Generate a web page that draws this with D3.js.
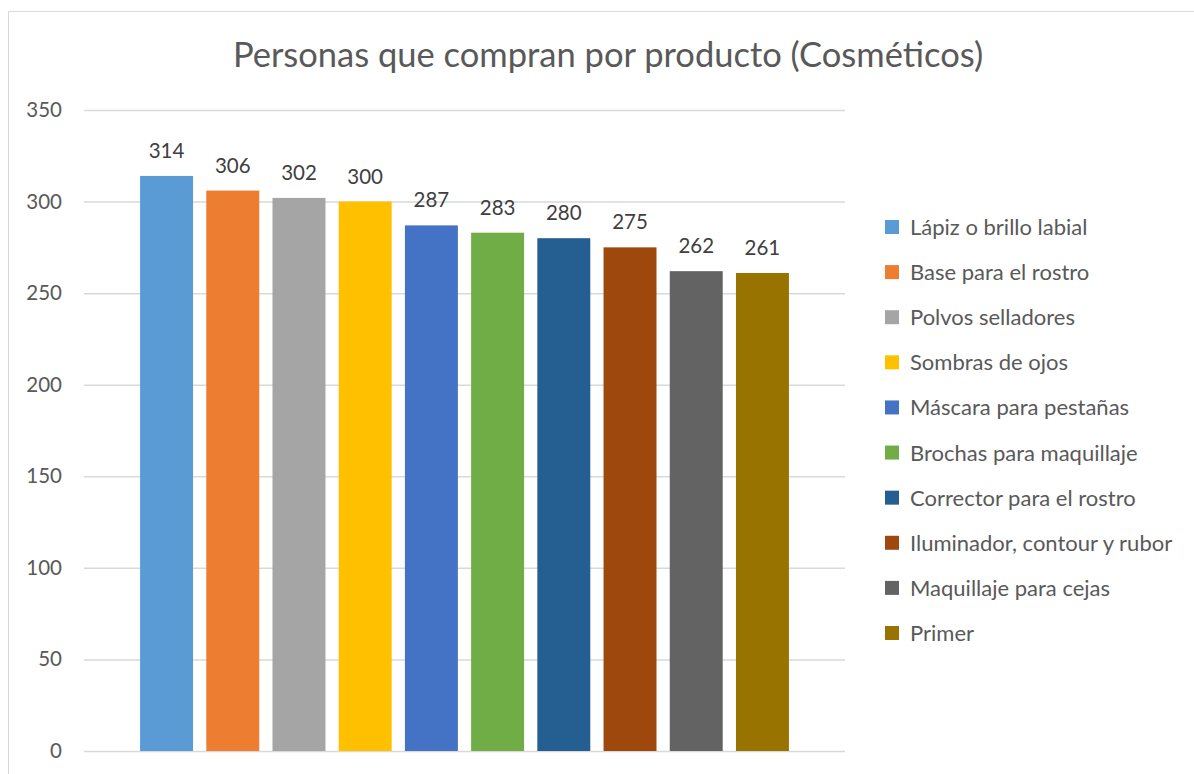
<!DOCTYPE html>
<html>
<head>
<meta charset="utf-8">
<script src="https://cdn.jsdelivr.net/npm/d3@7"></script>
<style>
  html, body { margin: 0; padding: 0; background: #fff; }
  svg { display: block; font-family: Lato, "Open Sans", sans-serif; }
</style>
</head>
<body>
<svg id="chart" width="1194" height="774"></svg>
<script>
const title = "Personas que compran por producto (Cosméticos)";
const categories = [
  "Lápiz o brillo labial",
  "Base para el rostro",
  "Polvos selladores",
  "Sombras de ojos",
  "Máscara para pestañas",
  "Brochas para maquillaje",
  "Corrector para el rostro",
  "Iluminador, contour y rubor",
  "Maquillaje para cejas",
  "Primer"
];
const values = [314, 306, 302, 300, 287, 283, 280, 275, 262, 261];
const colors = ["#5B9BD5", "#ED7D31", "#A5A5A5", "#FFC000", "#4472C4",
                "#70AD47", "#255E91", "#9E480E", "#636363", "#997300"];
const yTicks = [0, 50, 100, 150, 200, 250, 300, 350];

const svg = d3.select("#chart");

// chart border
svg.append("rect")
  .attr("x", 8.5).attr("y", 11.5)
  .attr("width", 1200).attr("height", 800)
  .attr("fill", "#fff").attr("stroke", "#D9D9D9").attr("stroke-width", 1);

const plot = { left: 84, right: 845, top: 110, bottom: 751 };

const y = d3.scaleLinear().domain([0, 350]).range([plot.bottom, plot.top]);
const x = d3.scaleBand().domain(categories)
  .range([plot.left, plot.right])
  .paddingInner(0.2).paddingOuter(0.847);

// gridlines + tick labels via axis
const yAxis = d3.axisLeft(y).tickValues(yTicks).tickSize(-(plot.right - plot.left)).tickPadding(22);
const gy = svg.append("g").attr("transform", `translate(${plot.left},0)`).call(yAxis);
gy.select(".domain").remove();
gy.selectAll(".tick line").attr("stroke", "#D9D9D9").attr("stroke-width", 1.5);
gy.selectAll(".tick text")
  .attr("fill", "#595959").style("font-size", "20.5px")
  .style("font-family", "Lato, 'Open Sans', sans-serif");

// bars
svg.append("g").selectAll("rect")
  .data(categories)
  .join("rect")
  .attr("x", d => x(d))
  .attr("width", x.bandwidth())
  .attr("y", (d, i) => y(values[i]))
  .attr("height", (d, i) => y(0) - y(values[i]))
  .attr("fill", (d, i) => colors[i]);

// data labels
svg.append("g").selectAll("text")
  .data(categories)
  .join("text")
  .attr("x", d => x(d) + x.bandwidth() / 2)
  .attr("y", (d, i) => y(values[i]) - 18)
  .attr("text-anchor", "middle")
  .attr("fill", "#404040")
  .style("font-size", "20.5px")
  .text((d, i) => values[i]);

// title
svg.append("text")
  .attr("x", 608).attr("y", 67)
  .attr("text-anchor", "middle")
  .attr("fill", "#595959")
  .style("font-size", "34.5px")
  .text(title);

// legend
const ly = d3.scalePoint().domain(categories).range([227, 633]);
const lg = svg.append("g").selectAll("g")
  .data(categories)
  .join("g")
  .attr("transform", d => `translate(885,${ly(d)})`);
lg.append("rect")
  .attr("x", 0).attr("y", -7).attr("width", 14).attr("height", 14)
  .attr("fill", (d, i) => colors[i]);
lg.append("text")
  .attr("x", 25).attr("y", 8)
  .attr("fill", "#595959")
  .style("font-size", "22px")
  .text(d => d);
</script>
</body>
</html>
